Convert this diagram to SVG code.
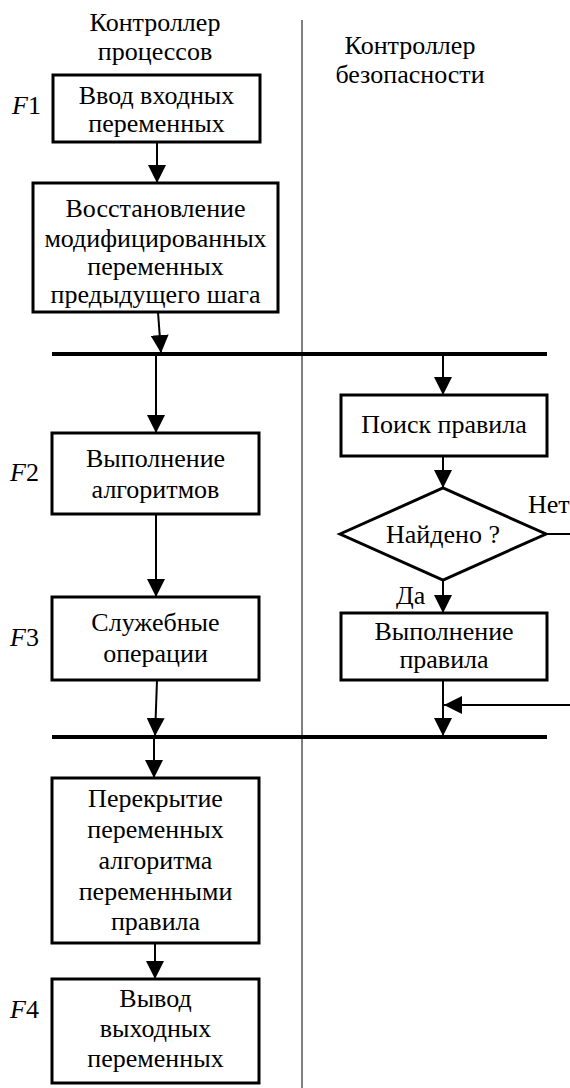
<svg xmlns="http://www.w3.org/2000/svg" width="570" height="1088" viewBox="0 0 570 1088">
<style>
text{font-family:'Liberation Serif','Times New Roman','DejaVu Serif',serif;font-size:26px;fill:#000}
.c{text-anchor:middle}
.box{fill:#fff;stroke:#000;stroke-width:3}
.ln{stroke:#000;stroke-width:2;fill:none}
.bus{stroke:#000;stroke-width:4}
.it{font-style:italic}
</style>
<defs>
<marker id="ah" viewBox="0 0 18 18" refX="18" refY="9" markerWidth="18" markerHeight="18" orient="auto" markerUnits="userSpaceOnUse"><path d="M0,0 L18,9 L0,18 z" fill="#000"/></marker>
</defs>
<rect width="570" height="1088" fill="#fff"/>
<g id="headings" font-family="Liberation Serif, serif">
<text class="c" x="155" y="31">Контроллер</text>
<text class="c" x="155" y="60">процессов</text>
<text class="c" x="410" y="54">Контроллер</text>
<text class="c" x="410" y="83">безопасности</text>
</g>
<line x1="302" y1="20" x2="302" y2="1088" stroke="#000" stroke-width="1"/>
<g id="connectors">
<line class="ln" x1="157" y1="142" x2="157" y2="183" marker-end="url(#ah)"/>
<line class="ln" x1="158" y1="312" x2="161" y2="353" marker-end="url(#ah)"/>
<line class="bus" x1="52" y1="354" x2="547" y2="354"/>
<line class="ln" x1="156" y1="356" x2="156" y2="433" marker-end="url(#ah)"/>
<line class="ln" x1="443" y1="356" x2="443" y2="395" marker-end="url(#ah)"/>
<line class="ln" x1="156" y1="514" x2="156" y2="597" marker-end="url(#ah)"/>
<line class="ln" x1="443" y1="456" x2="443" y2="488" marker-end="url(#ah)"/>
<line class="ln" x1="157" y1="680" x2="155" y2="736" marker-end="url(#ah)"/>
<line class="bus" x1="52" y1="737" x2="547" y2="737"/>
<line class="ln" x1="443" y1="580" x2="443" y2="613" marker-end="url(#ah)"/>
<line class="ln" x1="443" y1="680" x2="443" y2="736" marker-end="url(#ah)"/>
<line class="ln" x1="546" y1="534" x2="570" y2="534"/>
<line class="ln" x1="570" y1="705" x2="444" y2="705" marker-end="url(#ah)"/>
<line class="ln" x1="154" y1="739" x2="154" y2="778" marker-end="url(#ah)"/>
<line class="ln" x1="155" y1="943" x2="155" y2="979" marker-end="url(#ah)"/>
</g>
<g id="f1" font-family="Liberation Serif, serif">
<rect class="box" x="53" y="75" width="207" height="67"/>
<text class="c" x="156.5" y="104">Ввод входных</text>
<text class="c" x="156.5" y="132">переменных</text>
<text x="12" y="114"><tspan class="it">F</tspan>1</text>
</g>
<g id="restore" font-family="Liberation Serif, serif">
<rect class="box" x="33" y="183" width="245" height="129"/>
<text class="c" x="155.5" y="217">Восстановление</text>
<text class="c" x="155.5" y="247">модифицированных</text>
<text class="c" x="155.5" y="275">переменных</text>
<text class="c" x="155.5" y="303">предыдущего шага</text>
</g>
<g id="f2" font-family="Liberation Serif, serif">
<rect class="box" x="52" y="433" width="207" height="81"/>
<text class="c" x="155.5" y="467">Выполнение</text>
<text class="c" x="155.5" y="498">алгоритмов</text>
<text x="10" y="481"><tspan class="it">F</tspan>2</text>
</g>
<g id="f3" font-family="Liberation Serif, serif">
<rect class="box" x="52" y="597" width="207" height="83"/>
<text class="c" x="155.5" y="631">Служебные</text>
<text class="c" x="155.5" y="662">операции</text>
<text x="10" y="646"><tspan class="it">F</tspan>3</text>
</g>
<g id="overlap" font-family="Liberation Serif, serif">
<rect class="box" x="52" y="778" width="207" height="165"/>
<text class="c" x="155.5" y="807">Перекрытие</text>
<text class="c" x="155.5" y="838">переменных</text>
<text class="c" x="155.5" y="869">алгоритма</text>
<text class="c" x="155.5" y="900">переменными</text>
<text class="c" x="155.5" y="930">правила</text>
</g>
<g id="f4" font-family="Liberation Serif, serif">
<rect class="box" x="52" y="979" width="207" height="104"/>
<text class="c" x="155.5" y="1007">Вывод</text>
<text class="c" x="155.5" y="1037">выходных</text>
<text class="c" x="155.5" y="1067">переменных</text>
<text x="10" y="1018"><tspan class="it">F</tspan>4</text>
</g>
<g id="search" font-family="Liberation Serif, serif">
<rect class="box" x="341" y="395" width="206" height="61"/>
<text class="c" x="444" y="433">Поиск правила</text>
</g>
<g id="found" font-family="Liberation Serif, serif">
<polygon class="box" points="340,534 443,488 546,534 443,580"/>
<text class="c" x="443" y="543">Найдено ?</text>
<text x="528" y="513">Нет</text>
<text x="396" y="604">Да</text>
</g>
<g id="exec" font-family="Liberation Serif, serif">
<rect class="box" x="341" y="613" width="206" height="67"/>
<text class="c" x="444" y="640">Выполнение</text>
<text class="c" x="444" y="668">правила</text>
</g>
</svg>
